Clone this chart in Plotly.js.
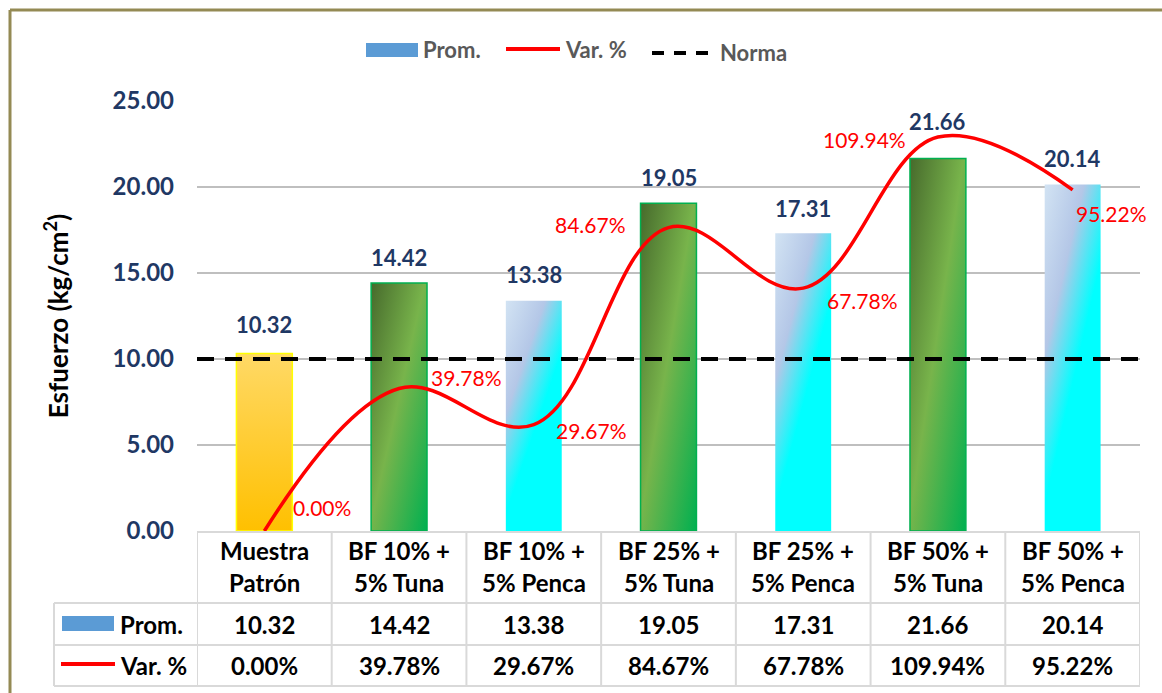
<!DOCTYPE html>
<html>
<head>
<meta charset="utf-8">
<script src="https://cdn.plot.ly/plotly-3.0.1.min.js"></script>
<style>
  html, body { margin: 0; padding: 0; background: #ffffff; }
  #chart { width: 1162px; height: 693px; }
</style>
</head>
<body>
<svg width="0" height="0" style="position:absolute">
  <defs>
    <linearGradient id="gPatron" x1="0" y1="0" x2="0" y2="1">
      <stop offset="0" stop-color="#ffd966"/>
      <stop offset="1" stop-color="#ffc000"/>
    </linearGradient>
    <linearGradient id="gTuna" x1="0" y1="0" x2="1" y2="1">
      <stop offset="0" stop-color="#476a2c"/>
      <stop offset="0.48" stop-color="#78b44b"/>
      <stop offset="1" stop-color="#00b050"/>
    </linearGradient>
    <linearGradient id="gPenca" x1="0" y1="0" x2="0.7" y2="1">
      <stop offset="0" stop-color="#d2e3f3"/>
      <stop offset="0.33" stop-color="#b4c7e7"/>
      <stop offset="0.62" stop-color="#00ffff"/>
      <stop offset="1" stop-color="#00ffff"/>
    </linearGradient>
  </defs>
</svg>
<div id="chart"></div>
<script>
// ---------------- data ----------------
const categories = ["Muestra Patrón", "BF 10% + 5% Tuna", "BF 10% + 5% Penca",
                    "BF 25% + 5% Tuna", "BF 25% + 5% Penca", "BF 50% + 5% Tuna", "BF 50% + 5% Penca"];
const prom = [10.32, 14.42, 13.38, 19.05, 17.31, 21.66, 20.14];
const varPct = [0.00, 39.78, 29.67, 84.67, 67.78, 109.94, 95.22];
const norma = 10;
const yTicks = [0, 5, 10, 15, 20, 25];
const seriesNames = ["Prom.", "Var. %", "Norma"];

// ---------------- styling / placement ----------------
const W = 1162, H = 693;
const M = {l: 197, r: 22, t: 101, b: 162};
const PW = W - M.l - M.r, PH = H - M.t - M.b;
const px2x = p => (p - M.l) / PW;
const py2y = p => (H - M.b - p) / PH;
const FONT = "Lato, 'Open Sans', sans-serif";
const NAVY = "#1f3864";
const GRID = "#bfbfbf";
const TABLE = "#d9d9d9";
// label offsets (px) – style only
const barLabelShift = [29, 25, 26, 26, 25, 37, 26];
const varLabelShift = [[58, 24], [67, 11], [58, -6], [-78, 3], [59, -12], [-73, -2], [39, -24]];

function splitLabel(s) {
  const i = s.indexOf('+');
  if (i >= 0) return [s.slice(0, i + 1), s.slice(i + 2)];
  const j = s.indexOf(' ');
  return [s.slice(0, j), s.slice(j + 1)];
}
const idx = categories.map((_, i) => i);

const traces = [
  {
    type: 'bar', x: idx, y: prom, name: seriesNames[0],
    marker: {color: '#5b9bd5'}, showlegend: false, hoverinfo: 'skip'
  },
  {
    type: 'scatter', mode: 'lines', x: idx, y: varPct, yaxis: 'y2', name: seriesNames[1],
    line: {color: '#ff0000', width: 3.5, shape: 'spline', smoothing: 1.1},
    showlegend: false, hoverinfo: 'skip'
  }
];

const shapes = [];
const annotations = [];

// Norma line
shapes.push({type: 'line', xref: 'paper', yref: 'y', x0: 0, x1: 1, y0: norma, y1: norma,
  line: {color: '#000000', width: 4, dash: '17px,11px'}, layer: 'above'});

// bar value labels
prom.forEach((v, i) => annotations.push({
  xref: 'x', yref: 'y', x: i, y: v, yshift: barLabelShift[i], showarrow: false,
  text: v.toFixed(2), font: {family: FONT, size: 22, color: NAVY, weight: 'bold'},
  xanchor: 'center', yanchor: 'middle'
}));
// var % labels
varPct.forEach((v, i) => annotations.push({
  xref: 'x', yref: 'y2', x: i, y: v, xshift: varLabelShift[i][0], yshift: varLabelShift[i][1],
  showarrow: false, text: v.toFixed(2) + '%',
  font: {family: FONT, size: 21, color: '#ff0000'}, xanchor: 'center', yanchor: 'middle'
}));

// ---------- data table ----------
const tblTop = 531, rowH = 603, rowP = 645, rowB = 686, tblLeft = 54;
for (let i = 0; i <= categories.length; i++) {
  shapes.push({type: 'line', xref: 'x', yref: 'paper', x0: i - 0.5, x1: i - 0.5,
    y0: py2y(tblTop), y1: py2y(rowB), line: {color: TABLE, width: 2}});
}
shapes.push({type: 'line', xref: 'paper', yref: 'paper', x0: px2x(tblLeft), x1: px2x(tblLeft),
  y0: py2y(rowH), y1: py2y(rowB), line: {color: TABLE, width: 2}});
[rowH, rowP, rowB].forEach(y => shapes.push({type: 'line', xref: 'paper', yref: 'paper',
  x0: px2x(tblLeft), x1: 1, y0: py2y(y), y1: py2y(y), line: {color: TABLE, width: 2}}));

const cellFont = {family: FONT, size: 24, color: '#000000', weight: 'bold'};
categories.forEach((c, i) => {
  const [a, b] = splitLabel(c);
  annotations.push({xref: 'x', yref: 'paper', x: i, y: py2y(550), text: a, showarrow: false, font: cellFont, yanchor: 'middle'});
  annotations.push({xref: 'x', yref: 'paper', x: i, y: py2y(582), text: b, showarrow: false, font: cellFont, yanchor: 'middle'});
  annotations.push({xref: 'x', yref: 'paper', x: i, y: py2y(624), text: prom[i].toFixed(2), showarrow: false, font: cellFont, yanchor: 'middle'});
  annotations.push({xref: 'x', yref: 'paper', x: i, y: py2y(665), text: varPct[i].toFixed(2) + '%', showarrow: false, font: cellFont, yanchor: 'middle'});
});
// table row keys
shapes.push({type: 'rect', xref: 'paper', yref: 'paper', x0: px2x(62), x1: px2x(114), y0: py2y(616), y1: py2y(631),
  fillcolor: '#5b9bd5', line: {width: 0}});
annotations.push({xref: 'paper', yref: 'paper', x: px2x(118), y: py2y(624), text: seriesNames[0], showarrow: false,
  font: cellFont, xanchor: 'left', yanchor: 'middle'});
shapes.push({type: 'line', xref: 'paper', yref: 'paper', x0: px2x(61), x1: px2x(115), y0: py2y(664), y1: py2y(664),
  line: {color: '#ff0000', width: 4}});
annotations.push({xref: 'paper', yref: 'paper', x: px2x(118), y: py2y(665), text: seriesNames[1], showarrow: false,
  font: cellFont, xanchor: 'left', yanchor: 'middle'});

// ---------- top legend ----------
const legFont = {family: FONT, size: 22, color: '#595959', weight: 'bold'};
shapes.push({type: 'rect', xref: 'paper', yref: 'paper', x0: px2x(366), x1: px2x(418), y0: py2y(43), y1: py2y(57),
  fillcolor: '#5b9bd5', line: {width: 0}});
annotations.push({xref: 'paper', yref: 'paper', x: px2x(421), y: py2y(50), text: seriesNames[0], showarrow: false,
  font: legFont, xanchor: 'left', yanchor: 'middle'});
shapes.push({type: 'line', xref: 'paper', yref: 'paper', x0: px2x(506), x1: px2x(560), y0: py2y(49), y1: py2y(49),
  line: {color: '#ff0000', width: 4}});
annotations.push({xref: 'paper', yref: 'paper', x: px2x(563), y: py2y(50), text: seriesNames[1], showarrow: false,
  font: legFont, xanchor: 'left', yanchor: 'middle'});
shapes.push({type: 'line', xref: 'paper', yref: 'paper', x0: px2x(652), x1: px2x(715), y0: py2y(53), y1: py2y(53),
  line: {color: '#000000', width: 4, dash: '12px,10px'}});
annotations.push({xref: 'paper', yref: 'paper', x: px2x(718), y: py2y(53), text: seriesNames[2], showarrow: false,
  font: legFont, xanchor: 'left', yanchor: 'middle'});

// outer frame (top & left)
shapes.push({type: 'line', xref: 'paper', yref: 'paper', x0: px2x(10), x1: px2x(1162), y0: py2y(10), y1: py2y(10),
  line: {color: '#948a54', width: 3}});
shapes.push({type: 'line', xref: 'paper', yref: 'paper', x0: px2x(10), x1: px2x(10), y0: py2y(10), y1: py2y(693),
  line: {color: '#948a54', width: 3}});

const layout = {
  width: W, height: H,
  margin: M,
  paper_bgcolor: '#ffffff', plot_bgcolor: '#ffffff',
  showlegend: false,
  bargap: 0.585,
  font: {family: FONT},
  xaxis: {
    range: [-0.5, categories.length - 0.5], showticklabels: false, ticks: '', showgrid: false,
    zeroline: false, showline: true, linecolor: TABLE, linewidth: 2, fixedrange: true
  },
  yaxis: {
    range: [0, 25], tickvals: yTicks, ticktext: yTicks.map(v => v.toFixed(2)),
    showgrid: true, gridcolor: GRID, gridwidth: 2, zeroline: false, showline: false, ticks: '',
    ticklabelstandoff: 22,
    tickfont: {family: FONT, size: 24, color: NAVY, weight: 'bold'},
    title: {text: 'Esfuerzo (kg/cm<sup>2</sup>)', font: {family: FONT, size: 26, color: '#000000', weight: 'bold'}, standoff: 36},
    fixedrange: true
  },
  yaxis2: {
    range: [0, 120], overlaying: 'y', side: 'right', visible: false, showgrid: false, zeroline: false, fixedrange: true
  },
  shapes: shapes,
  annotations: annotations
};

const gd = document.getElementById('chart');
function applyFills() {
  const paths = gd.querySelectorAll('.cartesianlayer .trace.bars .point path');
  paths.forEach((p, i) => {
    const c = categories[i] || '';
    let fill = 'url(#gPatron)', stroke = '#ffff00', sw = 1.5;
    if (c.indexOf('Tuna') >= 0) { fill = 'url(#gTuna)'; stroke = '#00b050'; sw = 1.5; }
    else if (c.indexOf('Penca') >= 0) { fill = 'url(#gPenca)'; stroke = 'none'; sw = 0; }
    p.style.fill = fill;
    p.style.fillOpacity = 1;
    p.style.stroke = stroke;
    p.style.strokeWidth = sw + 'px';
    p.style.strokeOpacity = 1;
  });
}
Plotly.newPlot(gd, traces, layout, {displayModeBar: false, staticPlot: true}).then(() => {
  applyFills();
  gd.on('plotly_afterplot', applyFills);
});
</script>
</body>
</html>
